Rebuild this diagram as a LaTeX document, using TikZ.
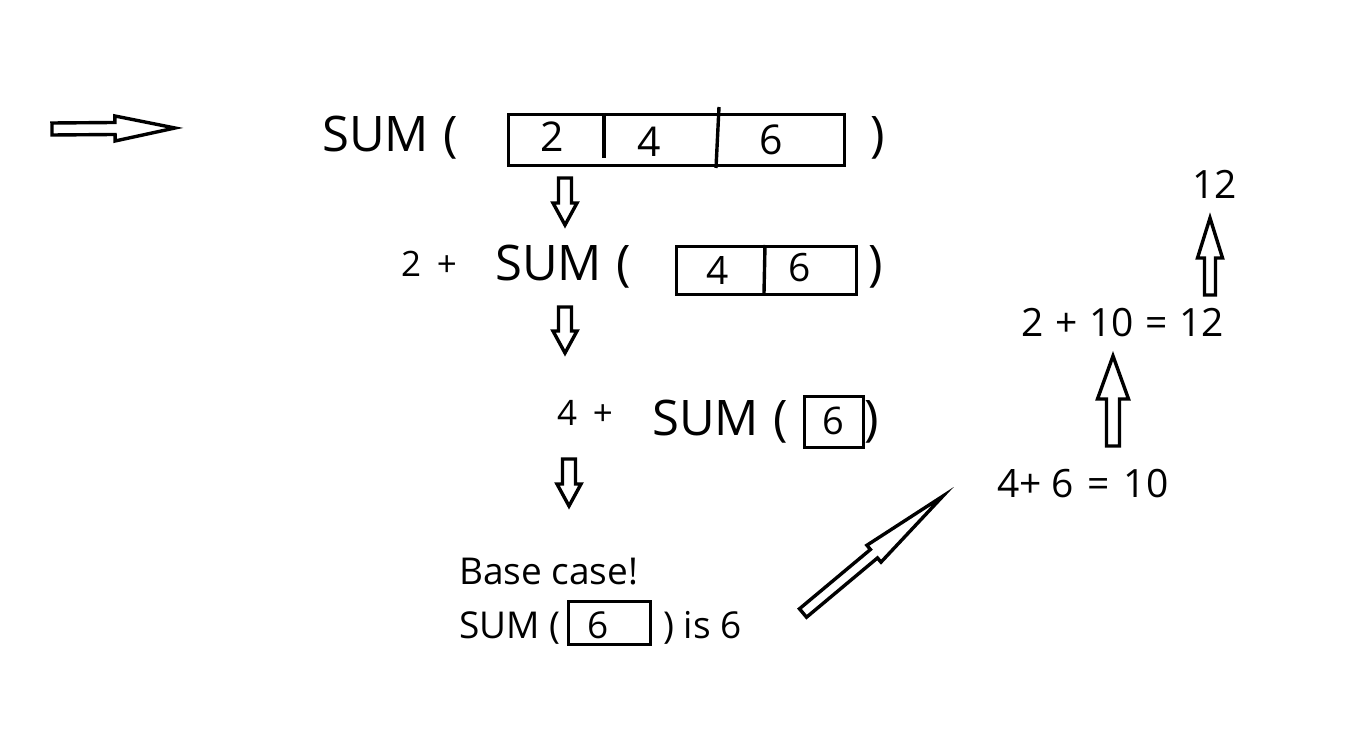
\documentclass[tikz,border=0pt]{standalone}
\usepackage{fontspec}
\setmainfont{Open Sans}
\usetikzlibrary{calc}
\tikzset{
  blockarr/.style={draw=black, line width=3.4pt, fill=white, line join=miter},
  boxline/.style={draw=black, line width=3.4pt},
  txt/.style={anchor=base west, inner sep=0pt, font=\fontsize{#1}{#1}\selectfont},
  dig/.style={anchor=base, inner sep=0pt, font=\fontsize{#1}{#1}\selectfont},
  cell/.style={draw=black, line width=3.4pt, inner sep=0pt, anchor=north west},
}
% tail, tip, shaft half width, head half width, head length
\newcommand\blockarrow[5]{%
  \coordinate (ba-h) at ($(#2)!#5!(#1)$);
  \draw[blockarr] ($(#1)!#3!90:(#2)$) -- ($(ba-h)!#3!90:(#2)$) -- ($(ba-h)!#4!90:(#2)$)
    -- (#2) -- ($(ba-h)!#4!-90:(#2)$) -- ($(ba-h)!#3!-90:(#2)$) -- ($(#1)!#3!-90:(#2)$) -- cycle;}
\newcommand\sumtext{SUM\hspace{0.3em}(}
\begin{document}
\begin{tikzpicture}[x=1pt,y=-1pt]
\useasboundingbox[fill=white] (0,0) rectangle (1357,735);

% ---- row 1
\node[txt=49] (sum1) at (322,152) {\sumtext};
\node[cell, minimum width=336pt, minimum height=51pt] (box1) at (507,113) {};
\draw[boxline] (604,113) -- (604,158);
\draw[boxline] (719,107) -- (716,168);
\node[dig=41] (d12) at (552,152) {2};
\node[dig=41] (d14) at (649,157) {4};
\node[dig=41] (d16) at (771,155) {6};
\node[txt=49] (cp1) at (870,152) {)};

% ---- row 2
\node[txt=35] (p2) at (401,277) {2\hspace{0.45em}+};
\node[txt=49] (sum2) at (495,281) {\sumtext};
\node[cell, minimum width=180pt, minimum height=48pt] (box2) at (675,245) {};
\draw[boxline] (765,245) -- (764,293);
\node[dig=39] (d24) at (718,285) {4};
\node[dig=39] (d26) at (800,282) {6};
\node[txt=49] (cp2) at (868,281) {)};

% ---- row 3
\node[txt=35] (p3) at (557,425) {4\hspace{0.45em}+};
\node[txt=49] (sum3) at (652,435) {\sumtext};
\node[cell, minimum width=59pt, minimum height=51pt] (box3) at (803,395) {};
\node[dig=38] (d36) at (833,434) {6};
\node[txt=49] (cp3) at (864,435) {)};

% ---- base case
\node[txt=37] (bc) at (459,584) {Base case!};
\node[txt=37] (sum4) at (459,638) {SUM (};
\node[cell, minimum width=82pt, minimum height=43pt] (box4) at (567,600) {};
\node[dig=37] (d46) at (598,638) {6};
\node[txt=37] (is6) at (663,638) {) is 6};

% ---- right column
\node[txt=39] (r1) at (997,497) {4+ 6\hspace{0.35em}=\hspace{0.35em}10};
\node[txt=39] (r2) at (1021,336) {2\hspace{0.3em}+\hspace{0.3em}10\hspace{0.3em}=\hspace{0.3em}12};
\node[txt=39] (r3) at (1192,199) {12};

% ---- arrows
\coordinate (a0t) at (52,129);   \coordinate (a0h) at (175,128);
\coordinate (a1t) at (565,178);  \coordinate (a1h) at (565,225);
\coordinate (a2t) at (565,307);  \coordinate (a2h) at (565,353);
\coordinate (a3t) at (569,459);  \coordinate (a3h) at (569,506);
\coordinate (a4t) at (803,613);  \coordinate (a4h) at (943,496);
\coordinate (a5t) at (1113,446); \coordinate (a5h) at (1113,356);
\coordinate (a6t) at (1210,295); \coordinate (a6h) at (1210,218);

\blockarrow{a0t}{a0h}{6pt}{12.5pt}{60pt}
\blockarrow{a1t}{a1h}{6.5pt}{12pt}{22pt}
\blockarrow{a2t}{a2h}{6.5pt}{12pt}{22pt}
\blockarrow{a3t}{a3h}{6.5pt}{12pt}{22pt}
\blockarrow{a4t}{a4h}{5.5pt}{11pt}{90pt}
\blockarrow{a5t}{a5h}{6.5pt}{15.5pt}{43pt}
\blockarrow{a6t}{a6h}{5.5pt}{12.5pt}{40pt}
\end{tikzpicture}
\end{document}
